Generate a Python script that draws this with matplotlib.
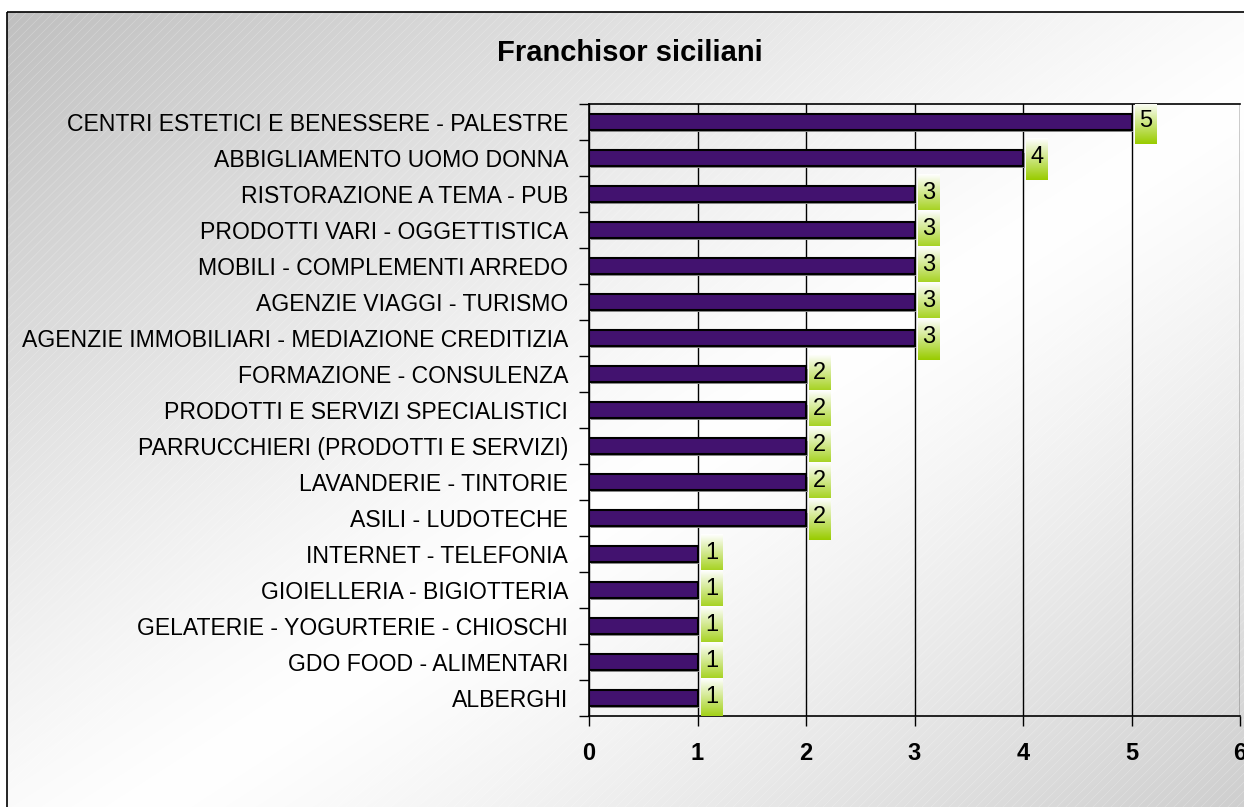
import numpy as np
import matplotlib
matplotlib.use("Agg")
import matplotlib.pyplot as plt
from matplotlib.patches import Rectangle

categories = [
    "CENTRI ESTETICI E BENESSERE - PALESTRE",
    "ABBIGLIAMENTO UOMO DONNA",
    "RISTORAZIONE A TEMA - PUB",
    "PRODOTTI VARI - OGGETTISTICA",
    "MOBILI - COMPLEMENTI ARREDO",
    "AGENZIE VIAGGI - TURISMO",
    "AGENZIE IMMOBILIARI - MEDIAZIONE CREDITIZIA",
    "FORMAZIONE - CONSULENZA",
    "PRODOTTI E SERVIZI SPECIALISTICI",
    "PARRUCCHIERI (PRODOTTI E SERVIZI)",
    "LAVANDERIE - TINTORIE",
    "ASILI - LUDOTECHE",
    "INTERNET - TELEFONIA",
    "GIOIELLERIA - BIGIOTTERIA",
    "GELATERIE - YOGURTERIE - CHIOSCHI",
    "GDO FOOD - ALIMENTARI",
    "ALBERGHI",
]
values = [5, 4, 3, 3, 3, 3, 3, 2, 2, 2, 2, 2, 1, 1, 1, 1, 1]
x_ticks = [0, 1, 2, 3, 4, 5, 6]
title = "Franchisor siciliani"

plt.rcParams['font.family'] = ['Liberation Sans', 'DejaVu Sans']

W, H = 1244, 807
fig = plt.figure(figsize=(W / 100, H / 100), dpi=100)
fig.patch.set_facecolor("white")

# background gradient axes
bg = fig.add_axes([0, 0, 1, 1], zorder=0)
bg.axis("off")
yy, xx = np.mgrid[0:H:2, 0:W:2]
d = (xx / W + yy / H) / 2.0  # 0 top-left, 1 bottom-right
t = np.abs(d - 0.55) / 0.55
g = 1.0 - 0.25 * np.clip(t, 0, 1) ** 1.2
img = np.dstack([g, g, g])
bg.imshow(img, extent=[7, W + 10, H + 10, 12], aspect="auto", interpolation="bilinear", zorder=0)
for c in np.arange(-H, W + H, 9):
    bg.plot([c, c + H], [H + 10, 12], color="white", lw=0.5, alpha=0.25, zorder=1)
bg.add_patch(Rectangle((7, 12), W + 20, H + 20, fill=False, ec="black", lw=1.2, zorder=2))
bg.set_xlim(0, W)
bg.set_ylim(H, 0)

ax = fig.add_axes([589 / W, 1 - 716 / H, (1240 - 589) / W, (716 - 104) / H], zorder=2)
ax.patch.set_alpha(0)

n = len(categories)
ypos = np.arange(n)
ax.barh(ypos + 0.06, values, height=0.42, left=0.015, color="#8c8c8c", linewidth=0, zorder=2.5)
ax.barh(ypos, values, height=0.42, color="#42126f", edgecolor="black", linewidth=1.5, zorder=3)

# green gradient label boxes
grad = np.linspace(0, 1, 64)[:, None]
top = np.array([1.0, 1.0, 1.0])
bot = np.array([0.60, 0.80, 0.0])
gimg = (top[None, None, :] * (1 - grad[..., None]) + bot[None, None, :] * grad[..., None])
for yi, v in zip(ypos, values):
    x0 = v + 0.03
    x1 = v + 0.225
    ax.imshow(gimg, extent=[x0, x1, yi + 0.61, yi - 0.55], aspect="auto", zorder=4,
              interpolation="bilinear")
    ax.text((x0 + x1) / 2, yi - 0.04, str(v), ha="center", va="center", fontsize=17, zorder=5)

ax.set_xlim(0, 6)
ax.set_ylim(n - 0.5, -0.5)
ax.set_xticks(x_ticks)
ax.set_xticklabels([str(x) for x in x_ticks], fontsize=17, fontweight="bold")
ax.set_yticks(ypos)
ax.set_yticklabels(categories, fontsize=16.6)
ax.set_yticks(np.arange(-0.5, n, 1), minor=True)
ax.tick_params(axis="y", which="major", length=0, pad=15)
ax.tick_params(axis="y", which="minor", length=7, width=1, direction="out")
ax.tick_params(axis="x", length=7, width=1, direction="out", pad=12)
ax.grid(axis="x", color="black", lw=1, zorder=1)
for s in ["left", "bottom", "top"]:
    ax.spines[s].set_linewidth(1.2)
ax.spines["right"].set_visible(False)
ax.set_axisbelow(True)

fig.text(630 / W, 1 - 53 / H, title, ha="center", va="center", fontsize=21, fontweight="bold")

fig.savefig("out.png", dpi=100)
